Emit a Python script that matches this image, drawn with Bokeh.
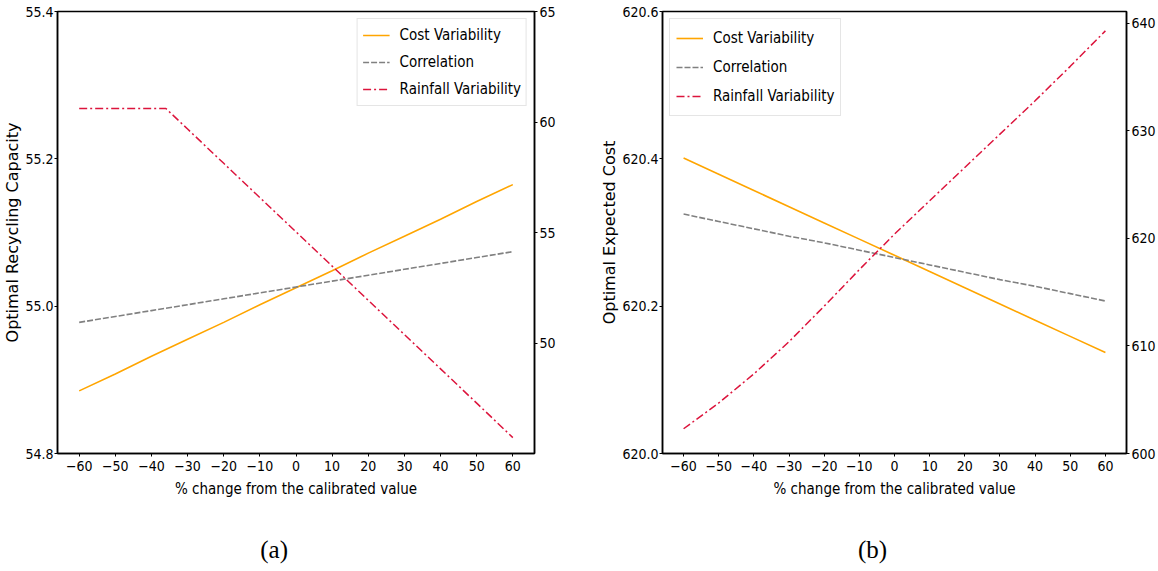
from bokeh.plotting import figure
from bokeh.models import (Range1d, LinearAxis, FixedTicker, CustomJSTickFormatter,
                          Legend, LegendItem, NumeralTickFormatter)
from bokeh.layouts import row
from bokeh.embed import file_html
from bokeh.resources import INLINE

# ---------------- data ----------------
pct = [-60, -50, -40, -30, -20, -10, 0, 10, 20, 30, 40, 50, 60]
x_ticks = [-60, -50, -40, -30, -20, -10, 0, 10, 20, 30, 40, 50, 60]

# panel (a): Optimal Recycling Capacity
cost_a = [54.885, 54.908, 54.932, 54.955, 54.978, 55.002, 55.025,
          55.048, 55.072, 55.095, 55.118, 55.142, 55.165]
corr_a = [54.978, 54.986, 54.994, 55.002, 55.010, 55.018, 55.026,
          55.034, 55.042, 55.050, 55.058, 55.066, 55.074]
rain_a_x = [-60, -50, -40, -36, -30, -20, -10, 0, 10, 20, 30, 40, 50, 60]
rain_a = [60.61, 60.61, 60.61, 60.61, 59.68, 58.13, 56.58, 55.03,
          53.48, 51.93, 50.38, 48.83, 47.28, 45.72]
a_left_ticks = [54.8, 55.0, 55.2, 55.4]
a_right_ticks = [50, 55, 60, 65]

# panel (b): Optimal Expected Cost
cost_b = [620.401, 620.379, 620.357, 620.335, 620.313, 620.291, 620.269,
          620.247, 620.225, 620.203, 620.181, 620.159, 620.137]
corr_b = [620.325, 620.315, 620.305, 620.295, 620.286, 620.276, 620.266,
          620.256, 620.246, 620.236, 620.227, 620.217, 620.207]
rain_b = [602.3, 604.7, 607.4, 610.4, 613.7, 617.1, 620.4,
          623.5, 626.6, 629.7, 632.8, 636.0, 639.3]
b_left_ticks = [620.0, 620.2, 620.4, 620.6]
b_right_ticks = [600, 610, 620, 630, 640]

series_names = ["Cost Variability", "Correlation", "Rainfall Variability"]
x_label = "% change from the calibrated value"

# ---------------- style ----------------
COND = "DejaVu Sans Condensed, Liberation Sans Narrow, DejaVu Sans"
ORANGE = "#FFA500"
GRAY = "#808080"
RED = "#DC143C"
NBSP = "\u00a0"

xfmt = CustomJSTickFormatter(code="return tick < 0 ? '\\u2212' + Math.abs(tick) : String(tick);")


def style_axis(ax, font_size="14px"):
    ax.axis_line_color = "black"
    ax.axis_line_width = 1.5
    ax.major_tick_line_color = "black"
    ax.major_tick_line_width = 1
    ax.major_tick_out = 3
    ax.major_tick_in = 0
    ax.minor_tick_out = 0
    ax.minor_tick_in = 0
    ax.major_label_text_font = COND
    ax.major_label_text_font_size = font_size
    ax.major_label_text_color = "black"
    ax.major_label_standoff = 2
    ax.axis_label_text_color = "black"


def make_panel(width, bl, br, ylabel, yl, yl_ticks, yr, yr_ticks,
               xs_rain, ys_cost, ys_corr, ys_rain, legend_loc, caption,
               glyph_h, spacing, pad):
    p = figure(width=width, height=570, x_range=Range1d(-66, 66),
               y_range=Range1d(*yl), output_backend="svg", toolbar_location=None,
               min_border_left=bl, min_border_right=br, min_border_top=11,
               min_border_bottom=117)
    p.extra_y_ranges = {"r": Range1d(*yr)}
    p.grid.visible = False
    p.outline_line_color = "black"
    p.outline_line_width = 1.5
    p.outline_line_alpha = 1.0
    p.background_fill_color = "white"
    p.border_fill_color = "white"

    ra = LinearAxis(y_range_name="r", ticker=FixedTicker(ticks=yr_ticks),
                    formatter=NumeralTickFormatter(format="0"))
    p.add_layout(ra, "right")
    for ax in p.axis:
        style_axis(ax, "14px")

    p.xaxis.ticker = FixedTicker(ticks=x_ticks)
    p.xaxis.formatter = xfmt
    p.xaxis.axis_label = x_label
    p.xaxis.axis_label_text_font = COND
    p.xaxis.axis_label_text_font_size = "15px"
    p.xaxis.axis_label_text_font_style = "normal"
    p.xaxis.major_label_standoff = 4
    p.xaxis.axis_label_standoff = 6

    ly = p.yaxis[0]
    ly.ticker = FixedTicker(ticks=yl_ticks)
    ly.formatter = NumeralTickFormatter(format="0.0")
    ly.axis_label = ylabel
    ly.axis_label_text_font = "DejaVu Sans"
    ly.axis_label_text_font_size = "16px"
    ly.axis_label_text_font_style = "normal"
    ly.axis_label_standoff = 0
    ly.major_label_standoff = 1

    r1 = p.line(pct, ys_cost, line_color=ORANGE, line_width=1.6)
    r2 = p.line(pct, ys_corr, line_color=GRAY, line_width=1.6, line_dash="6 2")
    r3 = p.line(xs_rain, ys_rain, line_color=RED, line_width=1.5,
                line_dash="8 3 2 3", y_range_name="r")

    leg = Legend(items=[LegendItem(label=series_names[0], renderers=[r1]),
                        LegendItem(label=series_names[1], renderers=[r2]),
                        LegendItem(label=series_names[2], renderers=[r3])],
                 location=legend_loc)
    leg.label_text_font = COND
    leg.label_text_font_size = "15px"
    leg.label_text_color = "black"
    leg.glyph_width = 27
    leg.glyph_height = glyph_h
    leg.label_height = glyph_h
    leg.spacing = spacing
    leg.padding = pad
    leg.margin = 7
    leg.label_standoff = 10
    leg.border_line_color = "#cccccc"
    leg.border_line_width = 1
    leg.background_fill_alpha = 0.85
    p.add_layout(leg)

    # caption "(a)" / "(b)" drawn as the label of a bare extra axis below
    cap = LinearAxis(ticker=FixedTicker(ticks=[]), axis_label=caption + NBSP * 7)
    cap.axis_line_alpha = 0
    cap.major_tick_out = 0
    cap.major_tick_in = 0
    cap.minor_tick_out = 0
    cap.minor_tick_in = 0
    cap.major_label_standoff = 0
    cap.major_label_text_font_size = "1px"
    cap.axis_label_standoff = 35
    cap.axis_label_text_font = "Liberation Serif"
    cap.axis_label_text_font_size = "25px"
    cap.axis_label_text_font_style = "normal"
    cap.axis_label_text_color = "black"
    p.add_layout(cap, "below")
    return p


pa = make_panel(597, 55, 63, "Optimal Recycling Capacity", (54.8, 55.4), a_left_ticks,
                (45, 65), a_right_ticks, rain_a_x, cost_a, corr_a, rain_a,
                "top_right", "(a)", 22, 5, 5)
pb = make_panel(561, 65, 32, "Optimal Expected Cost", (620.0, 620.6), b_left_ticks,
                (600, 641.1), b_right_ticks, pct, cost_b, corr_b, rain_b,
                "top_left", "(b)", 26, 3, 6)

layout = row(pa, pb)
open("out.html", "w").write(file_html(layout, INLINE))
